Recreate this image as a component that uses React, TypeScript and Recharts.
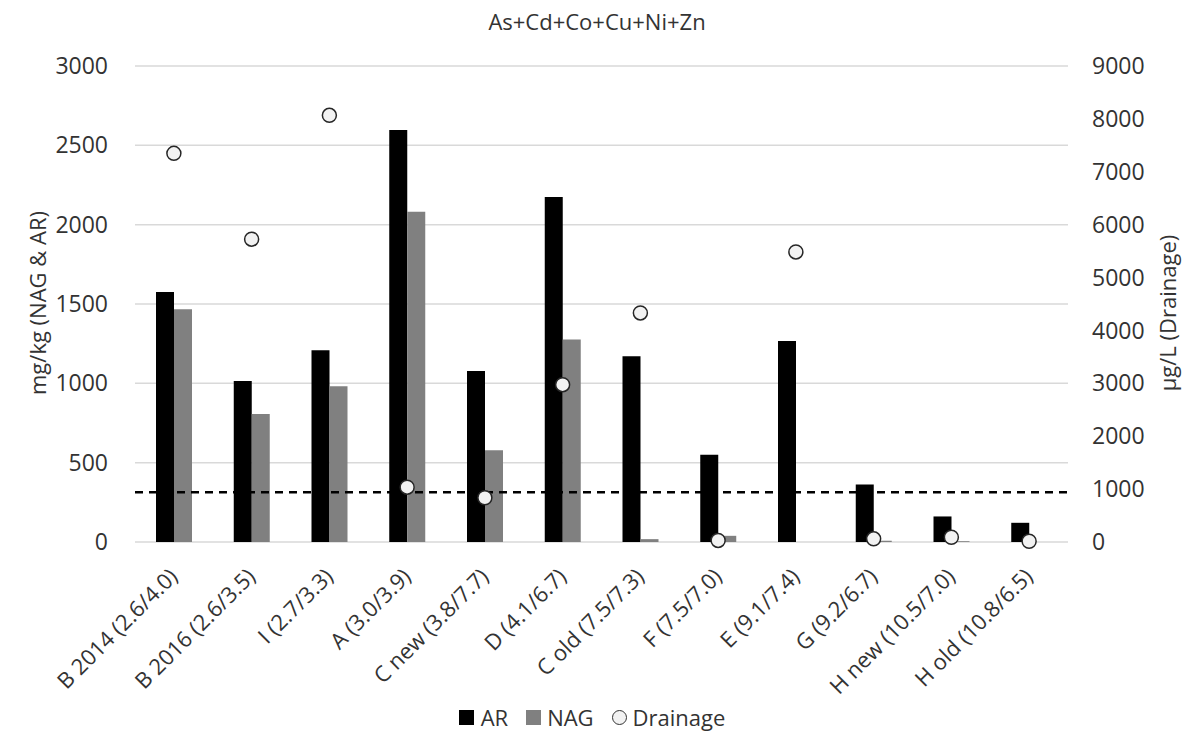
import { ComposedChart, Bar, Line, XAxis, YAxis, CartesianGrid, ReferenceLine, Legend } from 'recharts'

const categories = [
  'B 2014 (2.6/4.0)',
  'B 2016 (2.6/3.5)',
  'I (2.7/3.3)',
  'A (3.0/3.9)',
  'C new (3.8/7.7)',
  'D (4.1/6.7)',
  'C old (7.5/7.3)',
  'F (7.5/7.0)',
  'E (9.1/7.4)',
  'G (9.2/6.7)',
  'H new (10.5/7.0)',
  'H old (10.8/6.5)',
]
const arValues = [1576, 1015, 1208, 2596, 1078, 2174, 1170, 550, 1267, 363, 161, 121]
const nagValues = [1467, 806, 981, 2081, 579, 1276, 18, 39, 0, 8, 5, 0]
const drainageValues = [7348, 5726, 8067, 1037, 836, 2975, 4331, 30, 5485, 60, 90, 15]
const leftTicks = [0, 500, 1000, 1500, 2000, 2500, 3000]
const rightTicks = [0, 1000, 2000, 3000, 4000, 5000, 6000, 7000, 8000, 9000]
const thresholdLine = 314

const data = categories.map((name, i) => ({
  name,
  AR: arValues[i],
  NAG: nagValues[i],
  Drainage: drainageValues[i],
}))

const FONT = '"Open Sans", sans-serif'
const TEXT = '#333'

function XTick({ x, y, payload }: any) {
  return (
    <g transform={`translate(${x + 5},${y + 36})`}>
      <text textAnchor="end" transform="rotate(-45)" fontSize={22} fill={TEXT} fontFamily={FONT}>
        {payload.value}
      </text>
    </g>
  )
}

function LegendBox() {
  const item = { display: 'flex', alignItems: 'center', marginRight: 18 }
  return (
    <div
      style={{
        display: 'flex',
        justifyContent: 'center',
        fontFamily: FONT,
        fontSize: 22,
        lineHeight: '26px',
        color: TEXT,
      }}
    >
      <div style={item}>
        <span style={{ width: 15, height: 15, background: '#000', marginRight: 7 }} />
        AR
      </div>
      <div style={item}>
        <span style={{ width: 15, height: 15, background: '#808080', marginRight: 6 }} />
        NAG
      </div>
      <div style={{ ...item, marginRight: 0 }}>
        <span
          style={{
            width: 13,
            height: 13,
            borderRadius: '50%',
            border: '1.5px solid #333',
            background: '#f2f2f2',
            marginRight: 6,
          }}
        />
        Drainage
      </div>
    </div>
  )
}

export default function App() {
  return (
    <div style={{ position: 'absolute', left: 0, top: 0 }}>
      <ComposedChart width={1184} height={739} data={data} margin={{ top: 66, right: 0, bottom: 0, left: 0 }} barGap={0}>
        <text x={597} y={30} textAnchor="middle" fontSize={22} fill={TEXT} fontFamily={FONT}>
          As+Cd+Co+Cu+Ni+Zn
        </text>
        <CartesianGrid yAxisId="left" vertical={false} stroke="#d9d9d9" strokeWidth={1.5} />
        <XAxis
          dataKey="name"
          height={197}
          interval={0}
          axisLine={false}
          tickLine={false}
          tickSize={0}
          tickMargin={0}
          tick={<XTick />}
        />
        <YAxis
          yAxisId="left"
          width={135}
          domain={[0, 3000]}
          ticks={leftTicks}
          axisLine={false}
          tickLine={false}
          tickSize={0}
          tickMargin={27}
          tick={{ fontSize: 23, fill: TEXT, fontFamily: FONT }}
          label={{
            content: () => (
              <text
                x={37}
                y={303}
                transform="rotate(-90 37 303)"
                textAnchor="middle"
                dominantBaseline="central"
                fontSize={22}
                fill={TEXT}
                fontFamily={FONT}
              >
                mg/kg (NAG &amp; AR)
              </text>
            ),
          }}
        />
        <YAxis
          yAxisId="right"
          orientation="right"
          width={116}
          domain={[0, 9000]}
          ticks={rightTicks}
          axisLine={false}
          tickLine={false}
          tickSize={0}
          tickMargin={24}
          tick={{ fontSize: 23, fill: TEXT, fontFamily: FONT }}
          label={{
            content: () => (
              <text
                x={1167}
                y={313}
                transform="rotate(-90 1167 313)"
                textAnchor="middle"
                dominantBaseline="central"
                fontSize={22}
                fill={TEXT}
                fontFamily={FONT}
              >
                µg/L (Drainage)
              </text>
            ),
          }}
        />
        <Bar yAxisId="left" dataKey="AR" fill="#000" barSize={18} isAnimationActive={false} />
        <Bar yAxisId="left" dataKey="NAG" fill="#808080" barSize={18} isAnimationActive={false} />
        <ReferenceLine yAxisId="left" y={thresholdLine} stroke="#000" strokeWidth={2.5} strokeDasharray="8 6" />
        <Line
          yAxisId="right"
          dataKey="Drainage"
          stroke="none"
          isAnimationActive={false}
          dot={{ r: 7, fill: '#f2f2f2', stroke: '#262626', strokeWidth: 1.5 }}
          activeDot={false}
        />
        <Legend
          verticalAlign="middle"
          align="center"
          content={<LegendBox />}
          wrapperStyle={{ position: 'absolute', top: 704, left: 0, width: 1184, height: 26 }}
        />
      </ComposedChart>
    </div>
  )
}
